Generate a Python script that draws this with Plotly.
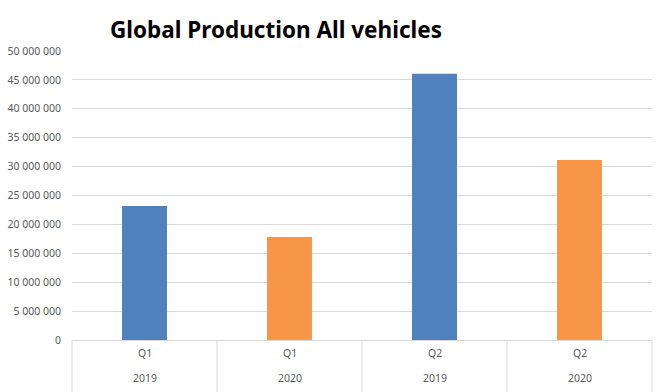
import plotly.graph_objects as go

quarters = ["Q1", "Q1", "Q2", "Q2"]
years = ["2019", "2020", "2019", "2020"]
production = [23200000, 17800000, 46050000, 31150000]
y_ticks = [0, 5000000, 10000000, 15000000, 20000000, 25000000,
           30000000, 35000000, 40000000, 45000000, 50000000]

bar_colors = ["#4F81BD", "#F79646", "#4F81BD", "#F79646"]
categories = [f"{q} {y}" for q, y in zip(quarters, years)]

fig = go.Figure()
fig.add_trace(go.Bar(x=categories, y=production, marker=dict(color=bar_colors, line=dict(width=0)),
                     showlegend=False, hoverinfo="x+y"))

font_family = "Noto Sans"
label_color = "#595959"

n = len(categories)
shapes = []
for i in range(n + 1):
    shapes.append(dict(type="line", xref="paper", yref="paper", x0=i / n, x1=i / n,
                       y0=0, y1=-0.2, line=dict(color="#d9d9d9", width=1)))

annotations = []
for c, q, yr in zip(categories, quarters, years):
    annotations.append(dict(x=c, xref="x", y=0, yref="paper", text=q, showarrow=False,
                            yanchor="middle", yshift=-13,
                            font=dict(family=font_family, size=10.5, color=label_color)))
    annotations.append(dict(x=c, xref="x", y=0, yref="paper", text=yr, showarrow=False,
                            yanchor="middle", yshift=-38,
                            font=dict(family=font_family, size=10.5, color=label_color)))

fig.update_layout(
    width=658, height=392,
    margin=dict(l=72, r=6, t=51, b=52),
    paper_bgcolor="white", plot_bgcolor="white",
    separators=". ",
    bargap=0.69,
    title=dict(text="<b>Global Production All vehicles</b>", xref="container", yref="container",
               x=110 / 658, xanchor="left", y=1 - 30 / 392, yanchor="middle",
               font=dict(family=font_family, size=22.5, color="black")),
    xaxis=dict(type="category", showticklabels=False, showgrid=False, showline=True,
               linecolor="#d9d9d9", linewidth=1, ticks="", fixedrange=True),
    yaxis=dict(range=[0, 50000000], tickvals=y_ticks, tickformat=",d", showgrid=True,
               gridcolor="#d9d9d9", gridwidth=1, zeroline=False, showline=False,
               ticks="", ticklabelstandoff=10,
               tickfont=dict(family=font_family, size=10.5, color=label_color)),
    shapes=shapes,
    annotations=annotations,
)

fig.write_html("out.html", config={"displayModeBar": False},
               post_script="document.body.style.margin='0';document.body.style.overflow='hidden';")
